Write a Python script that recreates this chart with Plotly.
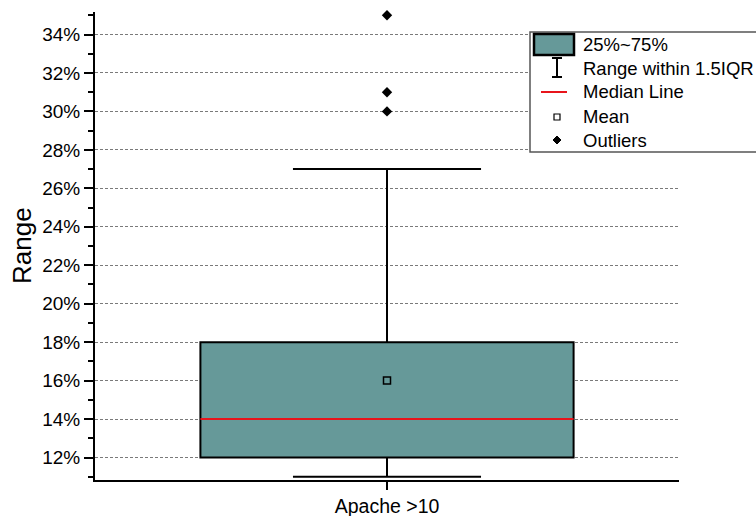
import plotly.graph_objects as go

# Summary statistics of the "Range" distribution (percent)
categories = ["Apache >10"]
q1_vals = [12.0]
median_vals = [14.0]
q3_vals = [18.0]
lower_whisker = [11.0]
upper_whisker = [27.0]
mean_vals = [16.0]
outlier_vals = [30.0, 31.0, 35.0]

y_tick_vals = [12, 14, 16, 18, 20, 22, 24, 26, 28, 30, 32, 34]
y_tick_text = [f"{v}%" for v in y_tick_vals]

legend_labels = ["25%~75%", "Range within 1.5IQR", "Median Line", "Mean", "Outliers"]

BOX_FILL = "#669999"
BOX_WIDTH = 0.639
FONT = "Liberation Sans, Arial, sans-serif"

W, H = 756, 516
L, R, T, B = 95, 77, 12, 36
PW, PH = W - L - R, H - T - B


def px(x):
    return (x - L) / PW


def py(y):
    return (H - B - y) / PH


xpos = list(range(len(categories)))

fig = go.Figure()

fig.add_trace(go.Box(
    x=xpos, q1=q1_vals, median=median_vals, q3=q3_vals,
    lowerfence=lower_whisker, upperfence=upper_whisker,
    width=BOX_WIDTH, whiskerwidth=0.504,
    fillcolor=BOX_FILL, line=dict(color="black", width=2),
    boxpoints=False, showlegend=False, hoverinfo="skip",
))

# red median line across the box
for i, m in zip(xpos, median_vals):
    fig.add_trace(go.Scatter(
        x=[i - BOX_WIDTH / 2, i + BOX_WIDTH / 2], y=[m, m], mode="lines",
        line=dict(color="#e8141b", width=2), showlegend=False, hoverinfo="skip",
    ))

fig.add_trace(go.Scatter(
    x=xpos, y=mean_vals, mode="markers",
    marker=dict(symbol="square-open", size=7, color="black", line=dict(width=1.5)),
    showlegend=False, hoverinfo="skip",
))

fig.add_trace(go.Scatter(
    x=[xpos[0]] * len(outlier_vals), y=outlier_vals, mode="markers",
    marker=dict(symbol="diamond", size=8, color="black"),
    showlegend=False, hoverinfo="skip", cliponaxis=False,
))

# hand-built legend block
shapes = []
annotations = []
lx0, ly0, ly1 = 530, 32, 152
shapes.append(dict(type="rect", xref="paper", yref="paper",
                   x0=px(lx0), x1=px(800), y0=py(ly1), y1=py(ly0),
                   line=dict(color="#555555", width=1.5), fillcolor="white", layer="above"))
# box swatch
shapes.append(dict(type="rect", xref="paper", yref="paper",
                   x0=px(534), x1=px(574), y0=py(55), y1=py(34),
                   line=dict(color="black", width=2.5), fillcolor=BOX_FILL, layer="above"))
# whisker I-beam
cx = 557
for seg in [(cx, 58, cx, 77), (cx - 5, 58, cx + 5, 58), (cx - 5, 77, cx + 5, 77)]:
    shapes.append(dict(type="line", xref="paper", yref="paper",
                       x0=px(seg[0]), y0=py(seg[1]), x1=px(seg[2]), y1=py(seg[3]),
                       line=dict(color="black", width=2), layer="above"))
# median swatch
shapes.append(dict(type="line", xref="paper", yref="paper",
                   x0=px(541), x1=px(567), y0=py(92), y1=py(92),
                   line=dict(color="#e8141b", width=2), layer="above"))
# mean swatch
shapes.append(dict(type="rect", xref="paper", yref="paper",
                   x0=px(cx - 3), x1=px(cx + 3), y0=py(120), y1=py(114),
                   line=dict(color="black", width=1.2), fillcolor="white", layer="above"))
# outlier swatch
shapes.append(dict(type="path", xref="paper", yref="paper",
                   path=f"M {px(cx)} {py(136)} L {px(cx + 4)} {py(140)} L {px(cx)} {py(144)} L {px(cx - 4)} {py(140)} Z",
                   line=dict(color="black", width=1), fillcolor="black", layer="above"))

row_y = [45, 68, 92, 117, 140]
for lab, yy in zip(legend_labels, row_y):
    annotations.append(dict(xref="paper", yref="paper", x=px(581), y=py(yy),
                            text=lab, showarrow=False, xanchor="left", yanchor="middle",
                            font=dict(family=FONT, size=18.5, color="black")))

# y-axis title
annotations.append(dict(xref="paper", yref="paper", x=px(22), y=py(246),
                        text="Range", textangle=-90, showarrow=False,
                        xanchor="center", yanchor="middle",
                        font=dict(family=FONT, size=26, color="black")))

fig.update_layout(
    width=W, height=H,
    margin=dict(l=L, r=R, t=T, b=B, autoexpand=False),
    paper_bgcolor="white", plot_bgcolor="white",
    font=dict(family=FONT, size=19, color="black"),
    shapes=shapes, annotations=annotations,
    showlegend=False,
)

fig.update_xaxes(
    range=[-0.5, len(categories) - 0.5],
    tickvals=xpos, ticktext=categories,
    showline=True, linecolor="black", linewidth=2,
    ticks="outside", ticklen=8, tickwidth=2, tickcolor="black",
    showgrid=False, zeroline=False, automargin=False,
    tickfont=dict(size=19.5),
)

fig.update_yaxes(
    range=[10.83, 35.17],
    tickvals=y_tick_vals, ticktext=y_tick_text,
    showline=True, linecolor="black", linewidth=2,
    ticks="outside", ticklen=9, tickwidth=2, tickcolor="black",
    minor=dict(ticks="outside", ticklen=5, tickwidth=2, tickcolor="black",
               dtick=1, tick0=11, showgrid=False),
    showgrid=True, gridcolor="#7a7a7a", gridwidth=1, griddash="3px,2px",
    zeroline=False, automargin=False,
    tickfont=dict(size=19),
)

fig.write_html("out.html")
